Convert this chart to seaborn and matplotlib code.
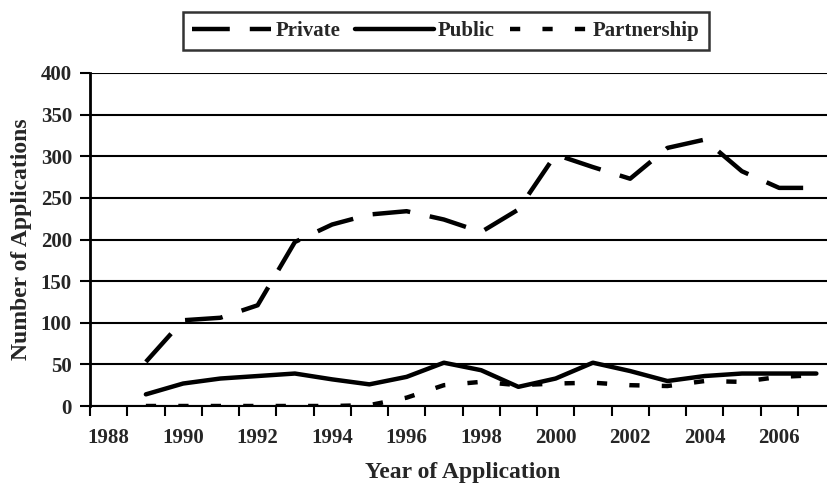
import numpy as np
import pandas as pd
import matplotlib
matplotlib.use("Agg")
import matplotlib.pyplot as plt
import seaborn as sns

sns.set_style("white")
plt.rcParams['font.family'] = ['Liberation Serif', 'DejaVu Serif']
plt.rcParams['font.weight'] = 'bold'

# data
years = list(range(1989, 2008))
private = [53, 103, 106, 121, 197, 218, 230, 234, 224, 209, 236, 302, 287, 273, 310, 320, 282, 262, 262]
public = [14, 27, 33, 36, 39, 32, 26, 35, 52, 43, 23, 33, 52, 42, 30, 36, 39, 39, 39]
partnership = [0, 0, 0, 0, 0, 0, 1, 10, 25, 29, 25, 27, 28, 25, 24, 30, 29, 35, 37]
tick_years = list(range(1988, 2007, 2))

df = pd.DataFrame({'Year': years, 'Private': private, 'Public': public, 'Partnership': partnership})

fig = plt.figure(figsize=(8.27, 4.87), dpi=100)
ax = fig.add_axes([90/827, (487-406)/487, 745/827, 333/487])

lw = 3.2
sns.lineplot(data=df, x='Year', y='Private', ax=ax, color='black', lw=lw,
             linestyle=(0, (8.5, 4.5)), label='Private')
sns.lineplot(data=df, x='Year', y='Public', ax=ax, color='black', lw=lw,
             linestyle='-', label='Public')
sns.lineplot(data=df, x='Year', y='Partnership', ax=ax, color='black', lw=lw,
             linestyle=(0, (2.3, 5.0)), label='Partnership')

ax.set_xlim(1987.5, 2007.5)
ax.set_ylim(0, 400)
ax.set_yticks(np.arange(0, 401, 50))
ax.grid(axis='y', color='black', lw=1.5)
ax.grid(axis='x', visible=False)

# slot boundaries as major ticks, year labels on minor ticks
ax.set_xticks(np.arange(1987.5, 2008, 1))
ax.set_xticklabels([])
ax.set_xticks(tick_years, minor=True)
ax.set_xticklabels([str(y) for y in tick_years], minor=True, fontsize=15, fontweight='bold')
ax.tick_params(axis='x', which='major', length=7, width=1.5, direction='out', color='black', bottom=True)
ax.tick_params(axis='x', which='minor', length=0, pad=16)
ax.tick_params(axis='y', length=7, width=1.5, direction='out', color='black', left=True,
               labelsize=15, pad=6)
for lab in ax.get_yticklabels():
    lab.set_fontweight('bold')

for s in ['top', 'right']:
    ax.spines[s].set_visible(False)
ax.spines['left'].set_color('black')
ax.spines['left'].set_linewidth(2)
ax.spines['bottom'].set_color('black')
ax.spines['bottom'].set_linewidth(1.5)

ax.set_xlabel('Year of Application', fontsize=17, fontweight='bold', labelpad=10)
ax.set_ylabel('Number of Applications', fontsize=17, fontweight='bold', labelpad=6)

ax.get_legend().remove()
handles, labels = ax.get_legend_handles_labels()
leg = fig.legend(handles, labels, loc='upper center', bbox_to_anchor=(0.539, 0.976), ncol=3,
                 frameon=True, fancybox=False, fontsize=15, handlelength=3.8,
                 handletextpad=0.2, columnspacing=0.7, borderpad=0.45, borderaxespad=0)
leg.get_frame().set_edgecolor('black')
leg.get_frame().set_linewidth(1.8)
for t in leg.get_texts():
    t.set_fontweight('bold')

fig.savefig('out.png', dpi=100)
